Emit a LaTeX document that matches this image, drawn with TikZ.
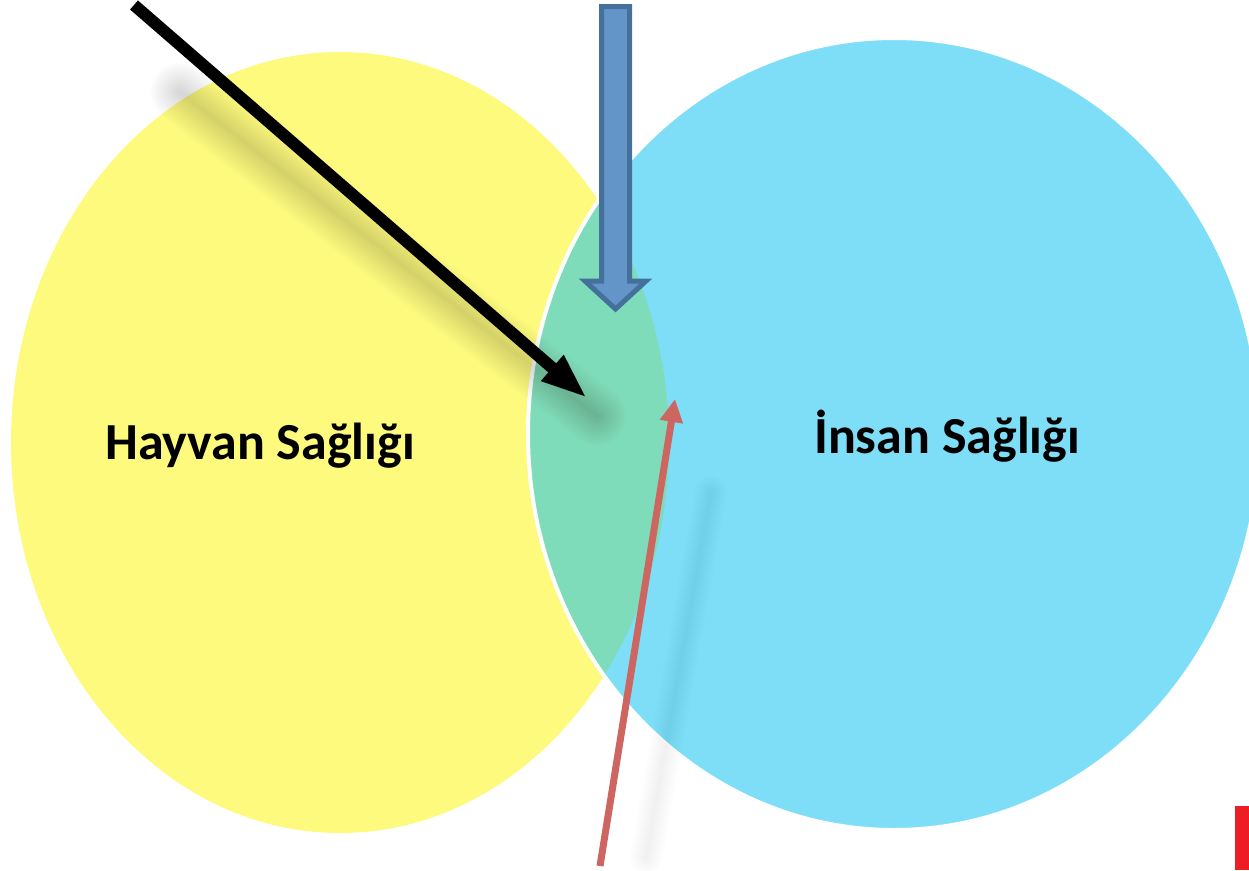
\documentclass[tikz,border=0pt]{standalone}
\usepackage{fontspec}
\setmainfont{Carlito}
\usetikzlibrary{arrows.meta}
\definecolor{yel}{HTML}{FDFA7E}
\definecolor{sky}{HTML}{7FDEF7}
\definecolor{mint}{HTML}{7FDCBA}
\definecolor{barfill}{HTML}{6495C9}
\definecolor{barline}{HTML}{44709A}
\definecolor{redarr}{HTML}{CD6660}
\definecolor{redmark}{HTML}{EE1C25}
\begin{document}
\begin{tikzpicture}[x=1pt,y=-1pt,
  lbl/.style={font=\fontsize{52}{62}\selectfont\bfseries, anchor=base, inner sep=0pt},
  softshade/.style={black, line cap=round},
  blackarrow/.style={black, line width=12pt, -{Triangle[length=46pt,width=31pt]}},
  redarrow/.style={redarr, line width=7pt, -{Triangle[length=23pt,width=22pt]}},
  blockarrow/.style={fill=barfill, draw=barline, line width=5pt, line join=miter}]
\useasboundingbox (0,0) rectangle (1249,870);
% circles
\fill[yel] (340,442.5) ellipse [x radius=329pt, y radius=390.5pt];
\fill[sky] (894,434) ellipse [x radius=366pt, y radius=396pt];
\begin{scope}
  \clip (340,442.5) ellipse [x radius=329pt, y radius=390.5pt];
  \fill[mint] (894,434) ellipse [x radius=366pt, y radius=396pt];
\end{scope}
\draw[white, line width=4pt] (894,434) ellipse [x radius=366pt, y radius=396pt];
% coordinates
\coordinate (bs1) at (180,92);
\coordinate (bs2) at (597,416);
\coordinate (rs1) at (646,858);
\coordinate (rs2) at (711,492);
\coordinate (bA) at (134,5);
\coordinate (bB) at (587,398);
\coordinate (rA) at (600,866);
\coordinate (rB) at (675,399);
% shadows
\foreach \i in {1,...,20}
  \draw[softshade, opacity=0.006, line width=3*\i pt] (bs1) -- (bs2);
\foreach \i in {1,...,14}
  \draw[softshade, opacity=0.005, line width=2.4*\i pt] (rs1) -- (rs2);
% labels
\node[lbl] (hayvan) at (260,459) {Hayvan Sağlığı};
\node[lbl] (insan) at (947,453) {İnsan Sağlığı};
% arrows
\draw[blackarrow] (bA) -- (bB);
\draw[redarrow] (rA) -- (rB);
\draw[blockarrow] (601.5,6.5) -- (629.5,6.5) -- (629.5,281) -- (646,281)
  -- (615.5,309) -- (585,281) -- (601.5,281) -- cycle;
% corner mark
\fill[redmark] (1235,806) rectangle (1249,870);
\end{tikzpicture}
\end{document}
